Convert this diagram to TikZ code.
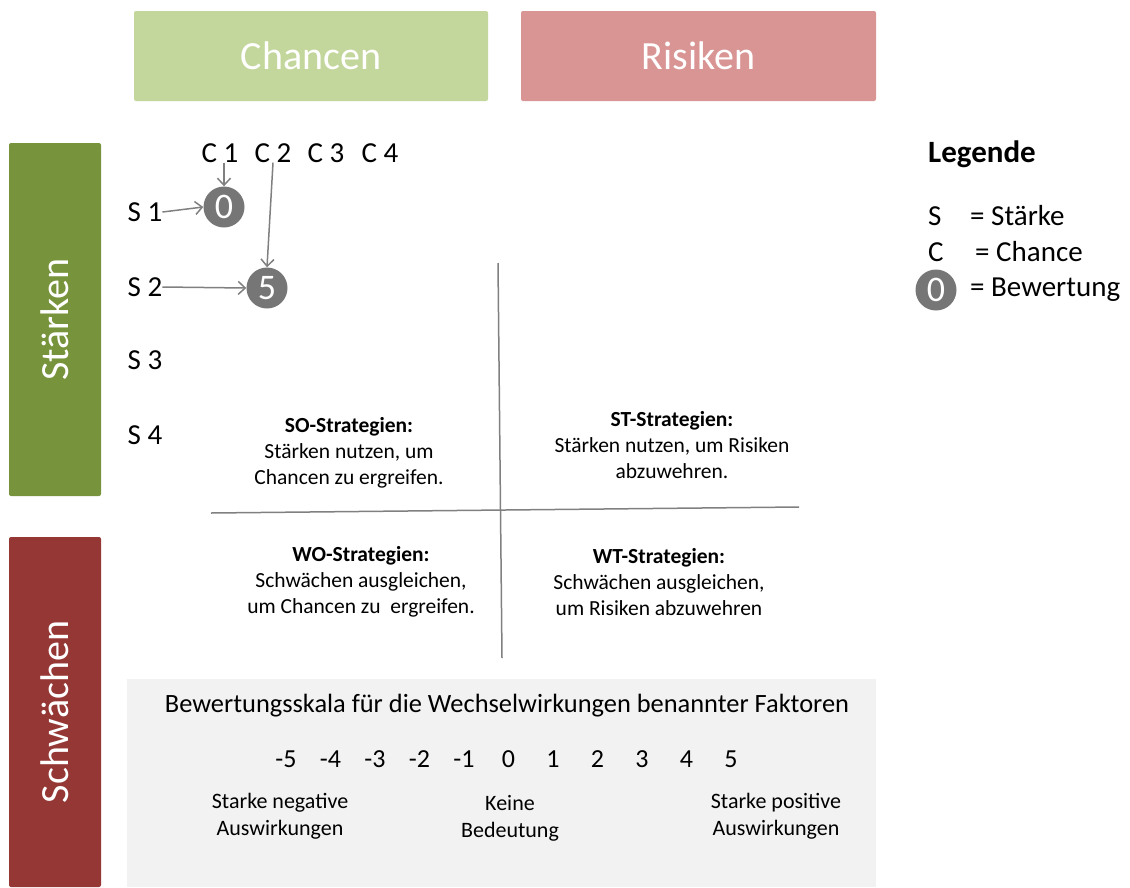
\documentclass[tikz,border=0pt]{standalone}
\usepackage{fontspec}
\setmainfont{Carlito}
\usetikzlibrary{arrows.meta}
\definecolor{chancegreen}{HTML}{C3D69B}
\definecolor{risikored}{HTML}{D99594}
\definecolor{staerkegreen}{HTML}{77933C}
\definecolor{schwaechered}{HTML}{953735}
\definecolor{ratinggray}{HTML}{767676}
\definecolor{linegray}{HTML}{808080}
\definecolor{scalegray}{HTML}{F2F2F2}
\newcommand{\setfs}[2]{\fontsize{#1}{#2}\selectfont}
\begin{document}
\begin{tikzpicture}[x=1pt, y=-1pt,
    header/.style={fill=#1, text=white, rounded corners=2pt, inner sep=0pt,
        font=\setfs{40}{46}},
    label/.style={inner sep=0pt, font=\setfs{29}{34}},
    rating/.style={circle, fill=ratinggray, text=white, minimum size=41pt,
        inner sep=0pt, font=\setfs{36}{40}},
    conn/.style={linegray, line width=1.5pt, -{Straight Barb[length=7pt, width=13pt]}},
    strat/.style={inner sep=0pt, align=center, font=\setfs{21.5}{26}},
    scaletext/.style={inner sep=0pt, align=center, font=\setfs{22}{27}}]
    \useasboundingbox (0,0) rectangle (1130,887);
    % Headers
    \node [header=chancegreen, minimum width=354pt, minimum height=90pt] (chancen) at (311,56) {Chancen};
    \node [header=risikored, minimum width=355pt, minimum height=90pt] (risiken) at (698.5,56) {Risiken};
    \node [header=staerkegreen, rotate=90, minimum width=353pt, minimum height=92pt] (staerken) at (55,319.5) {Stärken};
    \node [header=schwaechered, rotate=90, minimum width=350pt, minimum height=92pt] (schwaechen) at (55,712) {Schwächen};
    % Factors
    \node [label] (c1) at (220,153) {C 1};
    \node [label] (c2) at (273,153) {C 2};
    \node [label] (c3) at (326,153) {C 3};
    \node [label] (c4) at (380,153) {C 4};
    \node [label] (s1) at (145,212) {S 1};
    \node [label] (s2) at (145,287) {S 2};
    \node [label] (s3) at (145,360) {S 3};
    \node [label] (s4) at (145,435) {S 4};
    \node [rating] (r11) at (224,207) {0};
    \node [rating] (r22) at (267,288) {5};
    \draw [conn] (c1.south -| r11) -- (r11.north);
    \draw [conn] (c2.south) -- (r22.north);
    \draw [conn] (s1.east) -- (r11.west);
    \draw [conn] (s2.east) -- (r22.west);
    % Draw cross
    \coordinate (vt) at (498,263);
    \coordinate (vb) at (502,658);
    \coordinate (hl) at (211,513);
    \coordinate (hr) at (799,507);
    \draw [linegray, line width=1.5pt] (vt) -- (vb);
    \draw [linegray, line width=1.5pt] (hl) -- (hr);
    \node [strat] (so) at (349,452.5) {\textbf{SO-Strategien:}\\Stärken nutzen, um\\Chancen zu ergreifen.};
    \node [strat] (st) at (672,445) {\textbf{ST-Strategien:}\\Stärken nutzen, um Risiken\\abzuwehren.};
    \node [strat] (wo) at (361,582) {\textbf{WO-Strategien:}\\Schwächen ausgleichen,\\um Chancen zu\ \ ergreifen.};
    \node [strat] (wt) at (659,582) {\textbf{WT-Strategien:}\\Schwächen ausgleichen,\\um Risiken abzuwehren};
    % Legend
    \node [label, anchor=west, font=\setfs{31}{36}\bfseries] (legende) at (928,154) {Legende};
    \node [label, anchor=west] (ls) at (928,216) {S};
    \node [label, anchor=west] (lstext) at (970,216) {= Stärke};
    \node [label, anchor=west] (lc) at (928,252) {C};
    \node [label, anchor=west] (lctext) at (975,252) {= Chance};
    \node [rating] (lr) at (936,290) {0};
    \node [label, anchor=west] (lrtext) at (970,290) {= Bewertung};
    % Rating scale
    \node [fill=scalegray, minimum width=749pt, minimum height=208pt, inner sep=0pt] (scale) at (501.5,783) {};
    \node [scaletext, font=\setfs{26.4}{30}] (scaletitle) at (507,706) {Bewertungsskala für die Wechselwirkungen benannter Faktoren};
    \foreach \v [count=\i] in {-5,-4,-3,-2,-1,0,1,2,3,4,5}
        \node [scaletext, font=\setfs{26}{30}] (sc\i) at (241.5+\i*44.5,759) {\v};
    \node [scaletext] (neg) at (280,816.5) {Starke negative\\Auswirkungen};
    \node [scaletext] (neutral) at (510,818.5) {Keine\\Bedeutung};
    \node [scaletext] (pos) at (776,816.5) {Starke positive\\Auswirkungen};
\end{tikzpicture}
\end{document}
